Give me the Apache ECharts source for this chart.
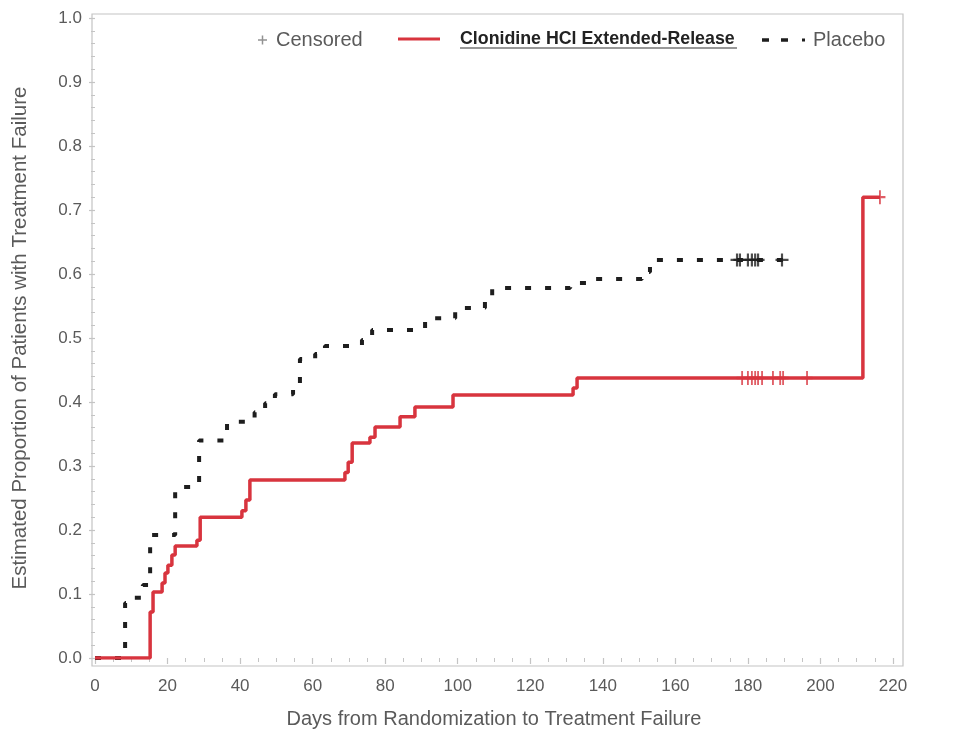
<!DOCTYPE html>
<html>
<head>
<meta charset="utf-8">
<script src="https://cdn.jsdelivr.net/npm/echarts@6/dist/echarts.min.js"></script>
<style>
html,body{margin:0;padding:0;background:#fff;}
#chart{width:972px;height:742px;}
</style>
</head>
<body>
<div id="chart"></div>
<script>
// ---- Data ----
const redDays = [0, 15.2, 16.0, 18.5, 19.3, 20.1, 21.2, 22.1, 28.1, 29.0, 40.5, 41.6, 42.7, 68.9, 69.8, 70.9, 75.8, 77.2, 84.1, 88.2, 98.7, 131.8, 132.9, 211.7, 216.4];
const redVals = [0, 0.072, 0.103, 0.117, 0.133, 0.145, 0.161, 0.175, 0.184, 0.22, 0.23, 0.247, 0.278, 0.29, 0.306, 0.336, 0.345, 0.361, 0.377, 0.392, 0.411, 0.422, 0.4375, 0.72, 0.72];

const plDays = [0, 8.3, 10.5, 13.2, 15.2, 22.1, 28.7, 36.4, 44.0, 46.9, 49.6, 54.6, 56.5, 60.7, 63.4, 73.6, 76.4, 91.0, 99.3, 107.5, 109.5, 131.0, 136.0, 150.8, 153.0, 190.5];
const plVals = [0, 0.086, 0.094, 0.114, 0.192, 0.267, 0.34, 0.369, 0.384, 0.398, 0.412, 0.419, 0.467, 0.475, 0.4875, 0.497, 0.5125, 0.531, 0.547, 0.5625, 0.578, 0.586, 0.592, 0.603, 0.622, 0.622];

const redCensDays = [178.4, 180.0, 181.1, 182.0, 182.8, 183.9, 186.9, 188.9, 189.7, 196.3, 216.4];
const redCensVals = [0.4375, 0.4375, 0.4375, 0.4375, 0.4375, 0.4375, 0.4375, 0.4375, 0.4375, 0.4375, 0.72];

const plCensDays = [177.0, 177.8, 180.0, 181.1, 182.0, 182.8, 189.4];
const plCensVals = [0.622, 0.622, 0.622, 0.622, 0.622, 0.622, 0.622];

const xTicks = {min: 0, max: 220, interval: 20};
const yTicks = {min: 0, max: 1, interval: 0.1};

const seriesNames = ['Censored', 'Clonidine HCl Extended-Release', 'Placebo'];

// ---- Chart ----
const zip = (a, b) => a.map((v, i) => [v, b[i]]);
const FONT = '"Liberation Sans", Arial, sans-serif';
const RED = '#d8343e';
const BLACK = '#1e1e1e';
const AXIS = '#c4c4c4';
const TXT = '#5a5a5a';
const plus = 'path://M5,0H7V5H12V7H7V12H5V7H0V5H5Z';
const redIcon = 'path://M0,0H42V3H0Z';
const dashIcon = 'path://M0,0H7V3.5H0Z M19,0H26V3.5H19Z M40,0.25H43V3.25H40Z';

const chart = echarts.init(document.getElementById('chart'), null, {renderer: 'canvas'});

chart.setOption({
  animation: false,
  backgroundColor: '#fff',
  textStyle: {fontFamily: FONT},
  grid: {left: 95, right: 79, top: 18, bottom: 84, containLabel: false},
  graphic: [
    {type: 'rect', shape: {x: 92, y: 14, width: 811, height: 652},
     style: {fill: 'none', stroke: AXIS, lineWidth: 1.2}, z: 0, silent: true},
    {type: 'line', shape: {x1: 460, y1: 48, x2: 737, y2: 48},
     style: {stroke: '#333', lineWidth: 1.2}, silent: true}
  ],
  legend: [
    {data: [{name: seriesNames[0], icon: plus, itemStyle: {color: '#777'}}],
     left: 258, top: 30, padding: 0, itemWidth: 9, itemHeight: 9, selectedMode: false,
     textStyle: {fontSize: 20, color: TXT, fontFamily: FONT, padding: [0, 0, 0, 4]}},
    {data: [{name: seriesNames[1], icon: redIcon, itemStyle: {color: RED}}],
     left: 398, top: 30, padding: 0, itemWidth: 42, itemHeight: 3, selectedMode: false,
     textStyle: {fontSize: 17.8, fontWeight: 'bold', color: '#222', fontFamily: FONT, padding: [0, 0, 0, 15]}},
    {data: [{name: seriesNames[2], icon: dashIcon, itemStyle: {color: BLACK}}],
     left: 762, top: 30, padding: 0, itemWidth: 43, itemHeight: 3.5, selectedMode: false,
     textStyle: {fontSize: 20, color: TXT, fontFamily: FONT, padding: [0, 0, 0, 3]}}
  ],
  xAxis: [{
    type: 'value', position: 'bottom', offset: 8,
    min: xTicks.min, max: xTicks.max, interval: xTicks.interval,
    axisLine: {show: false},
    axisTick: {show: true, length: 6, lineStyle: {color: AXIS, width: 1.2}},
    minorTick: {show: true, splitNumber: 4, length: 4, lineStyle: {color: AXIS}},
    splitLine: {show: false},
    axisLabel: {fontSize: 17, color: TXT, margin: 12, fontFamily: FONT},
    name: 'Days from Randomization to Treatment Failure',
    nameLocation: 'middle', nameGap: 43,
    nameTextStyle: {fontSize: 20, color: TXT, fontFamily: FONT}
  }],
  yAxis: [{
    type: 'value', position: 'left', offset: 3,
    min: yTicks.min, max: yTicks.max, interval: yTicks.interval,
    axisLine: {show: false},
    axisTick: {show: true, length: 6, lineStyle: {color: AXIS, width: 1.2}},
    minorTick: {show: true, splitNumber: 5, length: 4, lineStyle: {color: AXIS}},
    splitLine: {show: false},
    axisLabel: {fontSize: 17, color: TXT, margin: 10, fontFamily: FONT,
                formatter: v => v.toFixed(1)},
    name: 'Estimated Proportion of Patients with Treatment Failure',
    nameLocation: 'middle', nameGap: 61,
    nameTextStyle: {fontSize: 20.5, color: TXT, fontFamily: FONT}
  }],
  series: [
    {name: seriesNames[2], type: 'line', step: 'end', data: zip(plDays, plVals),
     symbol: 'none', z: 2,
     itemStyle: {color: BLACK},
     lineStyle: {color: BLACK, width: 4, type: [6, 14]}},
    {name: seriesNames[1], type: 'line', step: 'end', data: zip(redDays, redVals),
     symbol: 'none', z: 3,
     itemStyle: {color: RED},
     lineStyle: {color: RED, width: 3.5}},
    {name: seriesNames[0], type: 'scatter', data: zip(redCensDays, redCensVals),
     symbol: plus, symbolSize: [11, 14], z: 4,
     itemStyle: {color: RED}},
    {name: seriesNames[0], type: 'scatter', data: zip(plCensDays, plCensVals),
     symbol: plus, symbolSize: 13, z: 4,
     itemStyle: {color: BLACK}}
  ]
});
</script>
</body>
</html>
